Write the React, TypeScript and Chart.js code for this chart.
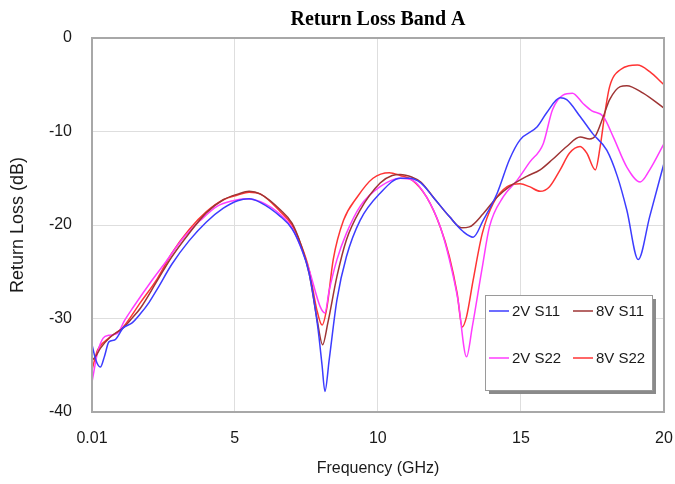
import React, { useEffect, useRef } from "react";
import { Chart, registerables } from "chart.js";

Chart.register(...registerables);

const titleText = "Return Loss Band A";
const xTitle = "Frequency (GHz)";
const yTitle = "Return Loss (dB)";
const xTickValues = [0.01, 5, 10, 15, 20];
const yTickMin = -40;
const yTickMax = 0;
const yTickStep = 10;

const seriesLabels = ["2V S11", "8V S11", "2V S22", "8V S22"];
const seriesColors = ["#3c3cff", "#9e3434", "#ff3cff", "#ff3434"];

const s11_2v_f = [0.01, 0.15, 0.3, 0.45, 0.6, 0.8, 1.1, 1.4, 1.7, 2.0, 2.3, 2.8, 3.4, 4.0, 4.6, 5.1, 5.5, 5.9, 6.6, 7.0, 7.3, 7.6, 7.9, 8.05, 8.15, 8.3, 8.57, 8.9, 9.38, 10.08, 10.78, 11.1, 11.5, 11.93, 12.5, 12.98, 13.33, 13.68, 14.17, 14.6, 14.97, 15.57, 15.9, 16.37, 16.6, 17.07, 17.5, 18.0, 18.37, 18.7, 19.1, 19.5, 20.0];
const s11_2v_db = [-32.8, -34.5, -35.2, -34.0, -32.5, -32.3, -31.0, -30.5, -29.5, -28.3, -26.8, -24.2, -21.7, -19.7, -18.2, -17.4, -17.2, -17.6, -19.1, -20.4, -22.3, -25.2, -30.9, -35.0, -37.8, -34.4, -28.0, -23.4, -19.5, -16.6, -15.0, -15.0, -15.5, -17.0, -19.1, -20.7, -21.3, -19.5, -16.6, -13.0, -10.9, -9.5, -8.0, -6.4, -6.6, -8.4, -10.2, -12.0, -14.8, -18.4, -23.7, -19.1, -13.4];

const s11_8v_f = [0.01, 0.15, 0.3, 0.64, 1.1, 1.4, 1.7, 2.3, 2.8, 3.4, 4.0, 4.6, 5.1, 5.5, 5.9, 6.6, 7.0, 7.3, 7.6, 7.87, 8.07, 8.25, 8.57, 8.9, 9.38, 10.08, 10.5, 10.78, 11.2, 11.5, 11.93, 12.5, 12.92, 13.2, 13.68, 14.17, 14.6, 15.2, 15.67, 16.1, 16.6, 17.07, 17.4, 17.6, 17.88, 18.1, 18.47, 18.7, 19.27, 20.0];
const s11_8v_db = [-34.5, -34.0, -33.2, -32.0, -31.0, -30.0, -28.9, -25.9, -23.4, -20.9, -18.7, -17.3, -16.7, -16.4, -16.7, -18.4, -19.8, -22.0, -25.2, -30.0, -32.8, -30.5, -25.5, -21.6, -18.4, -15.5, -14.7, -14.6, -14.9, -15.4, -17.0, -19.1, -20.3, -20.2, -18.8, -17.0, -15.9, -14.8, -14.1, -13.0, -11.6, -10.6, -10.8, -10.5, -8.4, -6.6, -5.2, -5.1, -5.9, -7.5];

const s22_2v_f = [0.01, 0.2, 0.4, 0.6, 0.9, 1.15, 1.45, 2.04, 2.6, 3.2, 3.8, 4.38, 4.94, 5.4, 5.9, 6.6, 7.0, 7.3, 7.6, 7.98, 8.15, 8.3, 8.57, 8.9, 9.38, 10.08, 10.78, 11.2, 11.7, 12.18, 12.5, 12.8, 13.1, 13.3, 13.65, 13.9, 14.38, 14.87, 15.3, 15.78, 16.1, 16.47, 16.8, 17.17, 17.48, 17.88, 18.23, 18.7, 19.17, 19.5, 20.0];
const s22_2v_db = [-36.8, -33.7, -32.1, -31.8, -31.6, -30.2, -28.8, -26.2, -23.9, -21.4, -19.5, -18.0, -17.4, -17.2, -17.5, -18.9, -20.3, -22.3, -24.8, -28.7, -29.4, -27.0, -23.7, -20.9, -18.0, -15.9, -15.0, -15.2, -17.0, -20.2, -23.7, -28.0, -34.1, -30.9, -24.5, -20.2, -17.0, -15.2, -13.3, -11.3, -7.7, -6.1, -5.9, -7.0, -7.8, -8.4, -10.6, -13.8, -15.4, -14.1, -11.3];

const s22_8v_f = [0.01, 0.2, 0.4, 0.64, 1.1, 1.7, 2.3, 2.8, 3.4, 4.0, 4.6, 5.1, 5.5, 5.9, 6.6, 7.0, 7.3, 7.6, 7.87, 8.05, 8.22, 8.44, 8.8, 9.28, 9.83, 10.4, 10.78, 11.2, 11.7, 12.18, 12.5, 12.77, 12.95, 13.1, 13.33, 13.65, 14.03, 14.52, 14.97, 15.3, 15.67, 16.0, 16.37, 16.7, 17.07, 17.3, 17.6, 17.77, 17.95, 18.1, 18.47, 19.07, 19.5, 20.0];
const s22_8v_db = [-35.5, -33.4, -32.6, -32.0, -30.9, -28.3, -25.7, -23.0, -20.5, -18.6, -17.3, -16.8, -16.5, -16.7, -18.6, -20.0, -22.0, -24.8, -29.1, -30.7, -28.8, -23.7, -19.5, -17.0, -15.0, -14.4, -14.7, -15.2, -17.0, -20.2, -23.4, -27.3, -30.9, -29.8, -25.9, -20.9, -17.7, -15.9, -15.6, -15.9, -16.4, -15.9, -14.1, -12.3, -11.6, -12.3, -14.1, -11.6, -7.7, -5.2, -3.4, -2.9, -3.6, -5.0];

const seriesFreqs = [s11_2v_f, s11_8v_f, s22_2v_f, s22_8v_f];
const seriesValues = [s11_2v_db, s11_8v_db, s22_2v_db, s22_8v_db];

const plotBoxPlugin = {
  id: "plotBox",
  afterDatasetsDraw(chart: any) {
    const { ctx, chartArea } = chart;
    ctx.save();
    ctx.strokeStyle = "#a8a8a8";
    ctx.lineWidth = 2;
    ctx.strokeRect(chartArea.left, chartArea.top, chartArea.right - chartArea.left, chartArea.bottom - chartArea.top);
    ctx.restore();
  },
};

const boxLegendPlugin = {
  id: "boxLegend",
  afterDraw(chart: any) {
    const { ctx } = chart;
    const bx = 485, by = 295, bw = 167, bh = 95;
    ctx.save();
    ctx.fillStyle = "#8a8a8a";
    ctx.fillRect(bx + 4, by + 4, bw, bh);
    ctx.fillStyle = "#ffffff";
    ctx.fillRect(bx, by, bw, bh);
    ctx.strokeStyle = "#9a9a9a";
    ctx.lineWidth = 1;
    ctx.strokeRect(bx + 0.5, by + 0.5, bw, bh);
    const cols = [489, 573];
    const rows = [311, 358];
    ctx.font = "15px 'Liberation Sans', Arial, sans-serif";
    ctx.textBaseline = "middle";
    ctx.textAlign = "left";
    chart.data.datasets.forEach((ds: any, i: number) => {
      const x = cols[i % 2];
      const y = rows[Math.floor(i / 2)];
      ctx.strokeStyle = ds.borderColor;
      ctx.lineWidth = 1.5;
      ctx.beginPath();
      ctx.moveTo(x, y);
      ctx.lineTo(x + 20, y);
      ctx.stroke();
      ctx.fillStyle = "#1a1a1a";
      ctx.fillText(ds.label, x + 23, y + 1);
    });
    ctx.restore();
  },
};

export default function App() {
  const canvasRef = useRef<HTMLCanvasElement | null>(null);

  useEffect(() => {
    document.body.style.margin = "0";
    const canvas = canvasRef.current;
    if (!canvas) return;
    const datasets = seriesLabels.map((label, i) => ({
      label,
      data: seriesFreqs[i].map((f, j) => ({ x: f, y: seriesValues[i][j] })),
      borderColor: seriesColors[i],
      backgroundColor: seriesColors[i],
      borderWidth: 1.5,
      pointRadius: 0,
      fill: false,
      cubicInterpolationMode: "monotone" as const,
    }));
    const chart = new Chart(canvas, {
      type: "line",
      data: { datasets },
      plugins: [plotBoxPlugin, boxLegendPlugin],
      options: {
        animation: false,
        responsive: false,
        layout: { padding: { left: 0, right: 11, top: 0, bottom: 0 } },
        plugins: {
          legend: { display: false },
          tooltip: { enabled: false },
          title: {
            display: true,
            fullSize: false,
            text: titleText,
            color: "#000000",
            font: { family: "'Liberation Serif', 'Times New Roman', serif", size: 20, weight: "bold", lineHeight: 1.2 },
            padding: { top: 8, bottom: 6 },
          },
        },
        scales: {
          x: {
            type: "linear",
            min: 0.01,
            max: 20,
            afterBuildTicks: (scale: any) => {
              scale.ticks = xTickValues.map((v) => ({ value: v }));
            },
            afterFit: (scale: any) => {
              scale.height = 72;
              scale.paddingLeft = 0;
              scale.paddingRight = 0;
            },
            ticks: {
              autoSkip: false,
              maxRotation: 0,
              padding: 17,
              color: "#1a1a1a",
              font: { family: "'Liberation Sans', Arial, sans-serif", size: 16 },
              callback: (v: any) => String(v),
            },
            grid: { color: "#dedede", lineWidth: 1, drawTicks: false },
            border: { display: false },
            title: {
              display: true,
              text: xTitle,
              color: "#1a1a1a",
              font: { family: "'Liberation Sans', Arial, sans-serif", size: 16, lineHeight: 1.2 },
              padding: { top: 0, bottom: 6 },
            },
          },
          y: {
            type: "linear",
            min: yTickMin,
            max: yTickMax,
            afterFit: (scale: any) => {
              scale.width = 92;
            },
            ticks: {
              stepSize: yTickStep,
              padding: 20,
              color: "#1a1a1a",
              font: { family: "'Liberation Sans', Arial, sans-serif", size: 16 },
            },
            grid: { color: "#dedede", lineWidth: 1, drawTicks: false },
            border: { display: false },
            title: {
              display: true,
              text: yTitle,
              color: "#1a1a1a",
              font: { family: "'Liberation Sans', Arial, sans-serif", size: 18, lineHeight: 1.2 },
              padding: { top: 7, bottom: 0 },
            },
          },
        },
      },
    });
    return () => chart.destroy();
  }, []);

  return (
    <div style={{ position: "fixed", left: 0, top: 0, width: 675, height: 484, background: "#ffffff" }}>
      <canvas ref={canvasRef} width={675} height={484} style={{ display: "block", width: 675, height: 484 }} />
    </div>
  );
}
